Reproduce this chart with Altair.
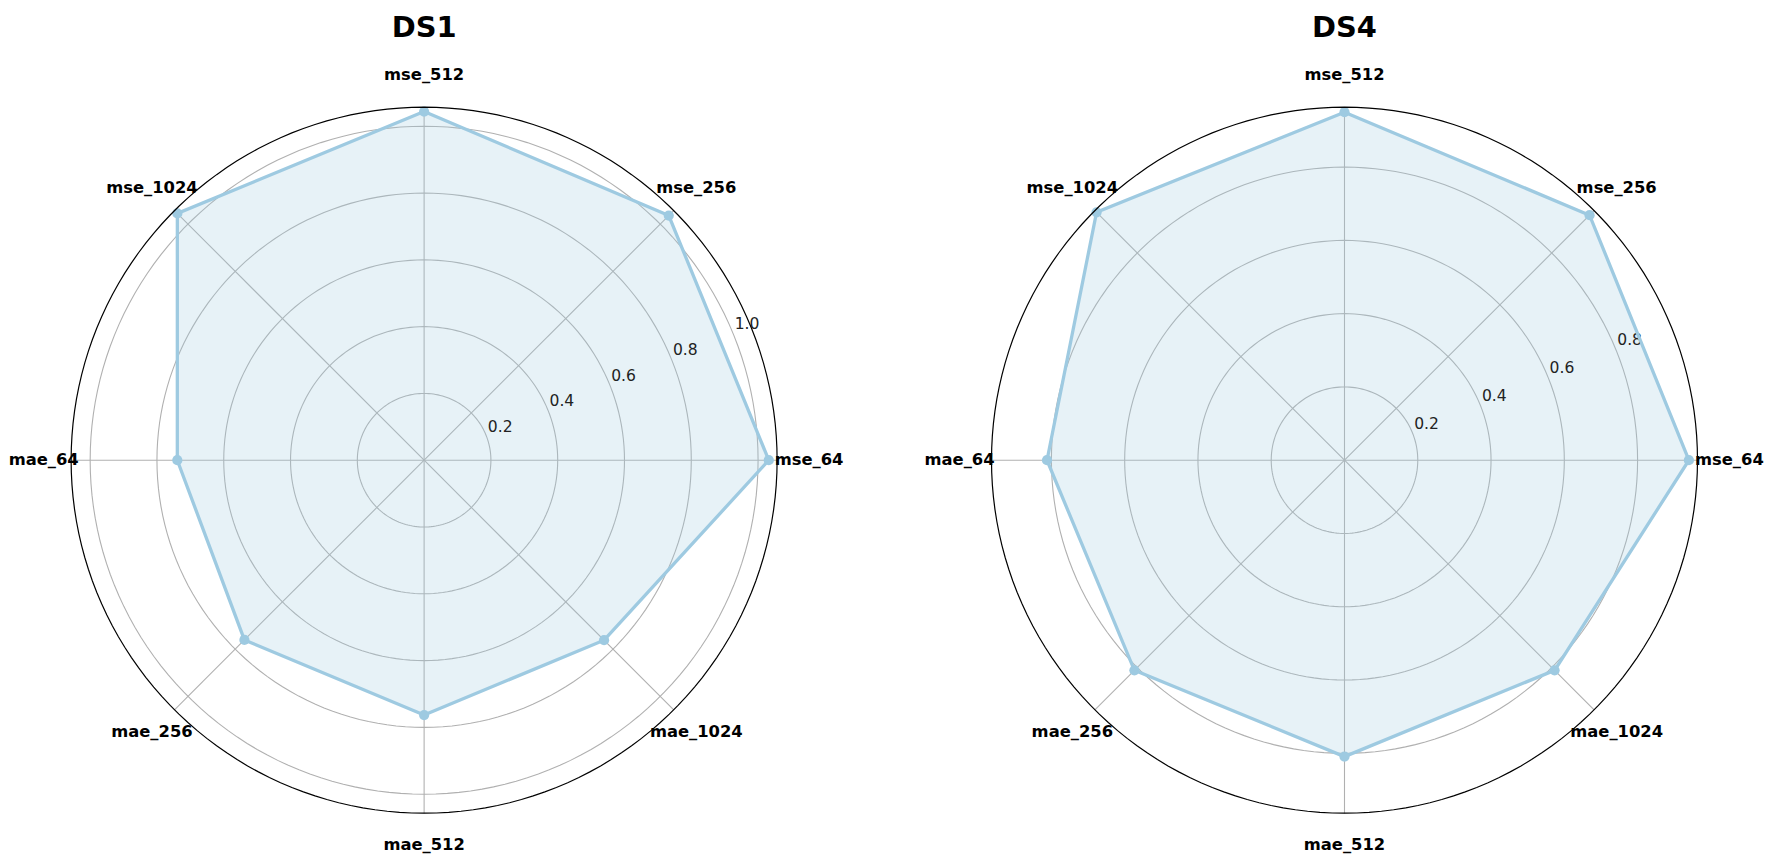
import altair as alt
import pandas as pd

# ---------------- data ----------------
metrics = ["mse_64", "mse_256", "mse_512", "mse_1024",
           "mae_64", "mae_256", "mae_512", "mae_1024"]
panel_titles = ["DS1", "DS4"]
ds1_values = [1.032, 1.036, 1.044, 1.045, 0.739, 0.761, 0.763, 0.762]
ds4_values = [0.940, 0.946, 0.950, 0.957, 0.812, 0.811, 0.809, 0.811]
ds1_ticks = [0.2, 0.4, 0.6, 0.8, 1.0]
ds4_ticks = [0.2, 0.4, 0.6, 0.8]
ds1_tick_labels = ["0.2", "0.4", "0.6", "0.8", "1.0"]
ds4_tick_labels = ["0.2", "0.4", "0.6", "0.8"]
r_limits = [1.057, 0.9635]

values = [ds1_values, ds4_values]
ticks = [ds1_ticks, ds4_ticks]
tick_labels = [ds1_tick_labels, ds4_tick_labels]

# ---------------- layout / style ----------------
LINE_COLOR = "#9ecae1"
GRID_COLOR = "#b0b0b0"
FONT = "DejaVu Sans"
CENTER_X = [416.3, 1339.3]   # chart coordinates of circle centres
CENTER_Y = 452.3
R_PX = 354.0
LABEL_PX = 386.0
PANEL_W = [880, 876]
PANEL_H = 842
LABEL_NUDGE = [4.5, 0.0]     # keep left-most label inside the page
TITLE_BASELINE = 27.5


def make_panel(i):
    rlim = r_limits[i]
    ppu = R_PX / rlim
    x_off = sum(PANEL_W[:i])
    cx = CENTER_X[i] - x_off
    W = PANEL_W[i]
    xdom = [-cx / ppu, (W - cx) / ppu]
    ydom = [-(PANEL_H - CENTER_Y) / ppu, CENTER_Y / ppu]
    xs = alt.Scale(domain=xdom, nice=False, zero=False)
    ys = alt.Scale(domain=ydom, nice=False, zero=False)

    def X(f):
        return alt.X(f, type="quantitative", scale=xs, axis=None)

    def Y(f):
        return alt.Y(f, type="quantitative", scale=ys, axis=None)

    df = pd.DataFrame({"metric": metrics, "idx": list(range(len(metrics))),
                       "value": values[i]})

    degs = list(range(0, 361, 2))
    ring_df = pd.DataFrame([(t, d) for t in ticks[i] for d in degs],
                           columns=["ring", "deg"])
    outer_df = pd.DataFrame({"deg": degs})

    rings = alt.Chart(ring_df).transform_calculate(
        x="datum.ring*cos(datum.deg*PI/180)",
        y="datum.ring*sin(datum.deg*PI/180)",
    ).mark_line(color=GRID_COLOR, strokeWidth=1.1).encode(
        x=X("x"), y=Y("y"), detail="ring:N", order="deg:Q")

    spokes = alt.Chart(df).transform_calculate(
        x0="0", y0="0",
        x1=f"{rlim}*cos(datum.idx*PI/4)",
        y1=f"{rlim}*sin(datum.idx*PI/4)",
    ).mark_rule(color=GRID_COLOR, strokeWidth=1.1).encode(
        x=X("x0"), y=Y("y0"), x2="x1:Q", y2="y1:Q")

    poly_base = alt.Chart(df).transform_calculate(
        x="datum.value*cos(datum.idx*PI/4)",
        y="datum.value*sin(datum.idx*PI/4)",
    )
    fill = poly_base.mark_line(interpolate="linear-closed", fill=LINE_COLOR,
                               fillOpacity=0.25, strokeOpacity=0).encode(
        x=X("x"), y=Y("y"), order="idx:Q")
    line = poly_base.mark_line(interpolate="linear-closed", color=LINE_COLOR,
                               strokeWidth=3.3).encode(
        x=X("x"), y=Y("y"), order="idx:Q")
    points = poly_base.mark_circle(size=105, color=LINE_COLOR, opacity=1).encode(
        x=X("x"), y=Y("y"))

    tick_df = pd.DataFrame({"t": ticks[i], "label": tick_labels[i]})
    tick_text = alt.Chart(tick_df).transform_calculate(
        x="datum.t*cos(PI/8)", y="datum.t*sin(PI/8)",
    ).mark_text(align="left", baseline="alphabetic", dx=2, dy=-3,
                fontSize=15.6, font=FONT, color="#222222").encode(
        x=X("x"), y=Y("y"), text="label:N")

    lr = LABEL_PX / ppu
    nudge = LABEL_NUDGE[i] / ppu
    cat_text = alt.Chart(df).transform_calculate(
        x=f"{lr}*cos(datum.idx*PI/4) + (datum.idx == 4 ? {nudge} : 0)",
        y=f"{lr}*sin(datum.idx*PI/4)",
    ).mark_text(align="center", baseline="middle", fontSize=16.4,
                fontWeight="bold", font=FONT, color="#000000").encode(
        x=X("x"), y=Y("y"), text="metric:N")

    outer = alt.Chart(outer_df).transform_calculate(
        x=f"{rlim}*cos(datum.deg*PI/180)",
        y=f"{rlim}*sin(datum.deg*PI/180)",
    ).mark_line(color="#000000", strokeWidth=1.2).encode(
        x=X("x"), y=Y("y"), order="deg:Q")

    title_df = pd.DataFrame({"title": [panel_titles[i]]})
    title = alt.Chart(title_df).transform_calculate(x="0").mark_text(
        align="center", baseline="alphabetic", fontSize=29, fontWeight="bold",
        font=FONT, color="#000000").encode(
        x=X("x"), y=alt.value(TITLE_BASELINE), text="title:N")

    return alt.layer(rings, spokes, fill, tick_text, line, points,
                     cat_text, outer, title).properties(width=W, height=PANEL_H)


chart = alt.hconcat(make_panel(0), make_panel(1), spacing=0, bounds="flush").properties(
    padding=0, background="white"
).configure_view(stroke="transparent", strokeWidth=0)

chart.save("out.html", embed_options={"renderer": "svg", "actions": False})
